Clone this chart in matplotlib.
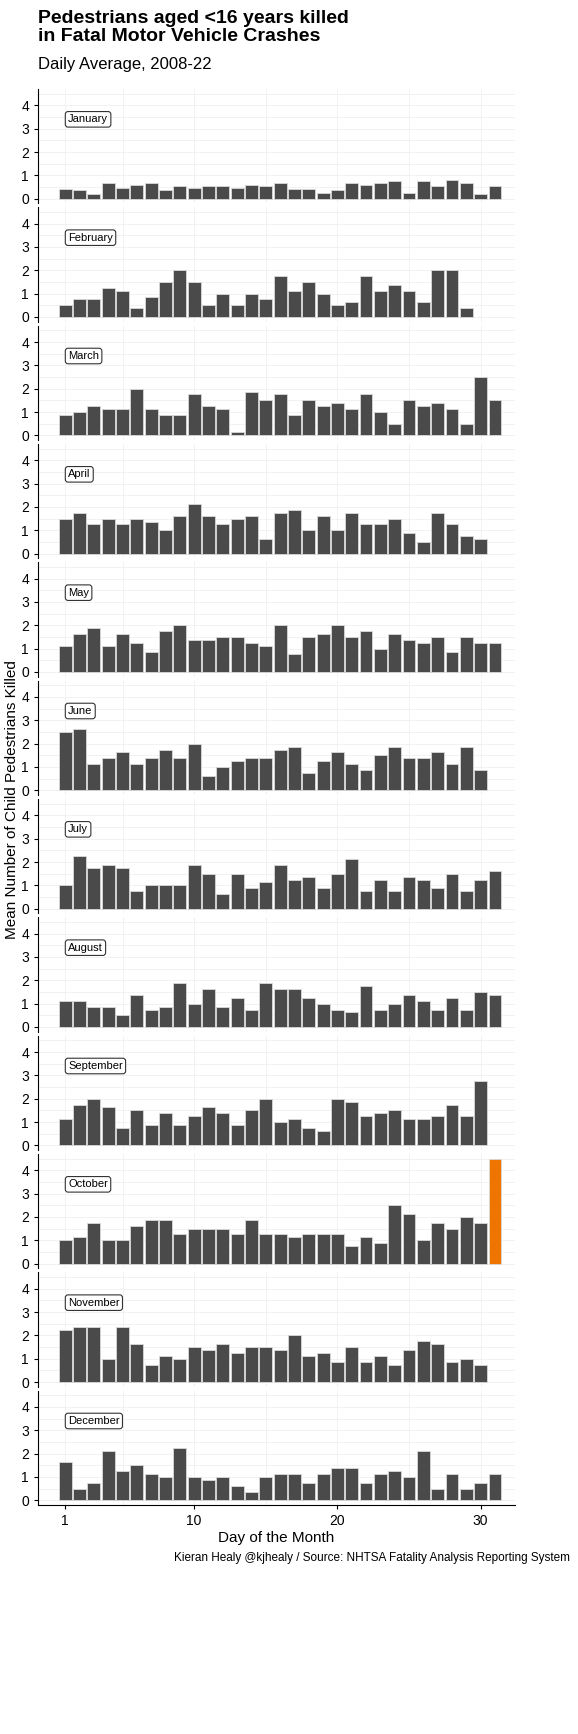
import matplotlib
matplotlib.use("Agg")
import matplotlib.pyplot as plt

plt.rcParams['font.family'] = ['Liberation Sans Narrow', 'Liberation Sans', 'DejaVu Sans']

MONTHS = ["January", "February", "March", "April", "May", "June", "July",
          "August", "September", "October", "November", "December"]

jan = [0.4, 0.35, 0.2, 0.65, 0.45, 0.6, 0.65, 0.35, 0.55, 0.45, 0.55, 0.55, 0.45, 0.6, 0.55, 0.65,
       0.4, 0.4, 0.25, 0.35, 0.65, 0.6, 0.65, 0.75, 0.25, 0.75, 0.55, 0.8, 0.65, 0.2, 0.55]
feb = [0.5, 0.75, 0.75, 1.25, 1.125, 0.375, 0.875, 1.5, 2, 1.5, 0.5, 1, 0.5, 1, 0.75, 1.75,
       1.125, 1.5, 1, 0.5, 0.625, 1.75, 1.125, 1.375, 1.125, 0.625, 2, 2, 0.375]
mar = [0.875, 1, 1.25, 1.125, 1.125, 2, 1.125, 0.875, 0.875, 1.75, 1.25, 1.125, 0.125, 1.875, 1.5,
       1.75, 0.875, 1.5, 1.25, 1.375, 1.125, 1.75, 1, 0.5, 1.5, 1.25, 1.375, 1.125, 0.5, 2.5, 1.5]
apr = [1.5, 1.75, 1.25, 1.5, 1.25, 1.5, 1.375, 1, 1.625, 2.125, 1.625, 1.25, 1.5, 1.625, 0.625,
       1.75, 1.875, 1, 1.625, 1, 1.75, 1.25, 1.25, 1.5, 0.875, 0.5, 1.75, 1.25, 0.75, 0.625]
may = [1.125, 1.625, 1.875, 1.125, 1.625, 1.25, 0.875, 1.75, 2, 1.375, 1.375, 1.5, 1.5, 1.25, 1.125,
       2, 0.75, 1.5, 1.625, 2, 1.5, 1.75, 1, 1.625, 1.375, 1.25, 1.5, 0.875, 1.5, 1.25, 1.25]
jun = [2.5, 2.625, 1.125, 1.375, 1.625, 1.125, 1.375, 1.75, 1.375, 2, 0.625, 1, 1.25, 1.375, 1.375,
       1.75, 1.875, 0.75, 1.25, 1.625, 1.125, 0.875, 1.5, 1.875, 1.375, 1.375, 1.625, 1.125, 1.875, 0.875]
jul = [1, 2.25, 1.75, 1.875, 1.75, 0.75, 1, 1, 1, 1.875, 1.5, 0.625, 1.5, 0.875, 1.125, 1.875,
       1.25, 1.375, 0.875, 1.5, 2.125, 0.75, 1.25, 0.75, 1.375, 1.25, 0.875, 1.5, 0.75, 1.25, 1.625]
aug = [1.125, 1.125, 0.875, 0.875, 0.5, 1.375, 0.75, 0.875, 1.875, 1, 1.625, 0.875, 1.25, 0.75,
       1.875, 1.625, 1.625, 1.25, 1, 0.75, 0.625, 1.75, 0.75, 1, 1.375, 1.125, 0.75, 1.25, 0.75, 1.5, 1.375]
sep = [1.125, 1.75, 2, 1.625, 0.75, 1.5, 0.875, 1.375, 0.875, 1.25, 1.625, 1.375, 0.875, 1.5, 2,
       1, 1.125, 0.75, 0.625, 2, 1.875, 1.25, 1.375, 1.5, 1.125, 1.125, 1.25, 1.75, 1.25, 2.75]
oct_ = [1, 1.125, 1.75, 1, 1, 1.625, 1.875, 1.875, 1.25, 1.5, 1.5, 1.5, 1.25, 1.875, 1.25, 1.25,
        1.125, 1.25, 1.25, 1.25, 0.75, 1.125, 0.875, 2.5, 2.125, 1, 1.75, 1.5, 2, 1.75, 4.5]
nov = [2.25, 2.375, 2.375, 1, 2.375, 1.625, 0.75, 1.125, 1, 1.5, 1.375, 1.625, 1.25, 1.5, 1.5,
       1.375, 2, 1.125, 1.25, 0.875, 1.5, 0.875, 1.125, 0.75, 1.375, 1.75, 1.625, 0.875, 1, 0.75]
dec = [1.625, 0.5, 0.75, 2.125, 1.25, 1.5, 1.125, 1, 2.25, 1, 0.875, 1, 0.625, 0.375, 1, 1.125,
       1.125, 0.75, 1.125, 1.375, 1.375, 0.75, 1.125, 1.25, 1, 2.125, 0.5, 1.125, 0.5, 0.75, 1.125]
VALUES = [jan, feb, mar, apr, may, jun, jul, aug, sep, oct_, nov, dec]

HIGHLIGHT = ("October", 31)

fig = plt.figure(figsize=(5.78, 17.34), dpi=100)
left, right = 38 / 578, 515 / 578
top_px, bot_px = 85, 1505
panel_h = (bot_px - top_px) / 12

for i, (month, vals) in enumerate(zip(MONTHS, VALUES)):
    y0 = 1 - (top_px + (i + 1) * panel_h) / 1734
    ax = fig.add_axes([left, y0, right - left, (panel_h - 4) / 1734])
    days = list(range(1, len(vals) + 1))
    colors = ["#ee7600" if (month, d) == HIGHLIGHT else "#4a4a4a" for d in days]
    ax.bar(days, vals, width=0.9, color=colors, edgecolor="#d9d9d9", linewidth=0.6, zorder=2)
    ax.set_xlim(-0.9, 32.4)
    ax.set_ylim(-0.2, 4.7)
    ax.set_yticks([0, 1, 2, 3, 4])
    ax.set_xticks([1, 10, 20, 30])
    ax.set_xticks([5, 15, 25], minor=True)
    ax.set_yticks([0.5, 1.5, 2.5, 3.5, 4.5], minor=True)
    ax.grid(True, which="both", color="#f0f0f0", linewidth=0.6, zorder=0)
    for s in ["top", "right"]:
        ax.spines[s].set_visible(False)
    ax.tick_params(axis="y", labelsize=10, length=3)
    ax.tick_params(which="minor", length=0)
    if i < 11:
        ax.spines["bottom"].set_visible(False)
        ax.tick_params(axis="x", length=0, labelbottom=False)
    else:
        ax.tick_params(axis="x", labelsize=10, length=3)
        ax.set_xlabel("Day of the Month", fontsize=11, labelpad=2)
    ax.text(1.2, 3.4, month, fontsize=8, va="center", ha="left",
            bbox=dict(boxstyle="round,pad=0.25", fc="white", ec="#333333", lw=0.8))

fig.text(12 / 578, 1 - 800 / 1734, "Mean Number of Child Pedestrians Killed",
         rotation=90, ha="center", va="center", fontsize=11)
fig.text(38 / 578, 1 - 10 / 1734, "Pedestrians aged <16 years killed\nin Fatal Motor Vehicle Crashes",
         ha="left", va="top", fontsize=14, fontweight="bold", linespacing=1.1)
fig.text(38 / 578, 1 - 64 / 1734, "Daily Average, 2008-22", ha="left", va="center", fontsize=12)
fig.text(570 / 578, 1 - 1558 / 1734,
         "Kieran Healy @kjhealy / Source: NHTSA Fatality Analysis Reporting System",
         ha="right", va="center", fontsize=8.5)

fig.savefig("out.png", dpi=100, facecolor="white")
